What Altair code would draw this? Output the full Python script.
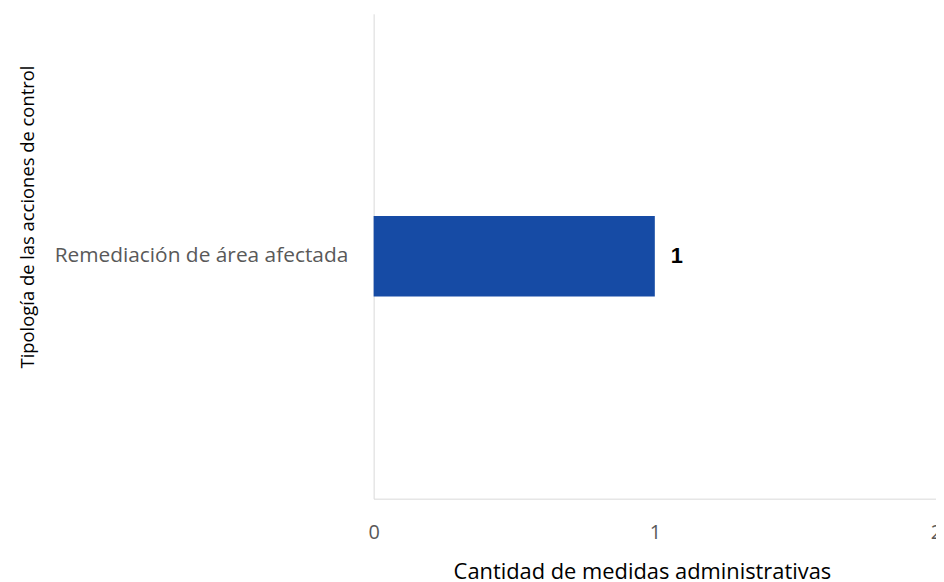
import altair as alt
import pandas as pd

categories = ["Remediación de área afectada"]
values = [1]
x_ticks = [0, 1, 2]

df = pd.DataFrame({"cat": categories, "val": values})

x_axis = alt.Axis(
    title="Cantidad de medidas administrativas",
    values=x_ticks,
    format=".0f",
    labelFlush=False,
    grid=False,
    ticks=False,
    domain=True,
    domainColor="#D9D9D9",
    domainWidth=1,
    labelFont="Open Sans",
    labelFontSize=20,
    labelColor="#595959",
    labelPadding=24,
    titleFont="Open Sans",
    titleFontSize=22,
    titleFontWeight="normal",
    titleColor="#000000",
    titleBaseline="alphabetic",
    titleX=270,
    titleY=80,
)

y_axis = alt.Axis(
    title="Tipología de las acciones de control",
    ticks=False,
    grid=False,
    domain=True,
    domainColor="#D9D9D9",
    domainWidth=1,
    labelFont="Open Sans",
    labelFontSize=21,
    labelColor="#595959",
    labelPadding=26,
    labelLimit=400,
    titleFont="Open Sans",
    titleFontSize=18.5,
    titleFontWeight="normal",
    titleColor="#000000",
    titleX=-338,
    titleY=204,
)

x_scale = alt.Scale(domain=[0, 2], nice=False)

base = alt.Chart(df)

bars = base.mark_bar(size=81, color="#164BA5").encode(
    x=alt.X("val:Q", scale=x_scale, axis=x_axis),
    y=alt.Y("cat:N", axis=y_axis),
)

labels = base.mark_text(
    align="left",
    baseline="middle",
    dx=16,
    font="Liberation Sans",
    fontSize=22,
    fontWeight="bold",
    color="#000000",
).encode(
    x=alt.X("val:Q", scale=x_scale, axis=x_axis),
    y=alt.Y("cat:N", axis=y_axis),
    text=alt.Text("val:Q", format="d"),
)

chart = (
    alt.layer(bars, labels)
    .properties(
        width=566,
        height=488,
        background="white",
        autosize=alt.AutoSizeParams(type="none"),
        padding={"left": 368, "top": 4, "right": 0, "bottom": 82},
    )
    .configure_view(stroke=None, strokeWidth=0)
)

chart.save("out.html", embed_options={"renderer": "svg", "actions": False})
